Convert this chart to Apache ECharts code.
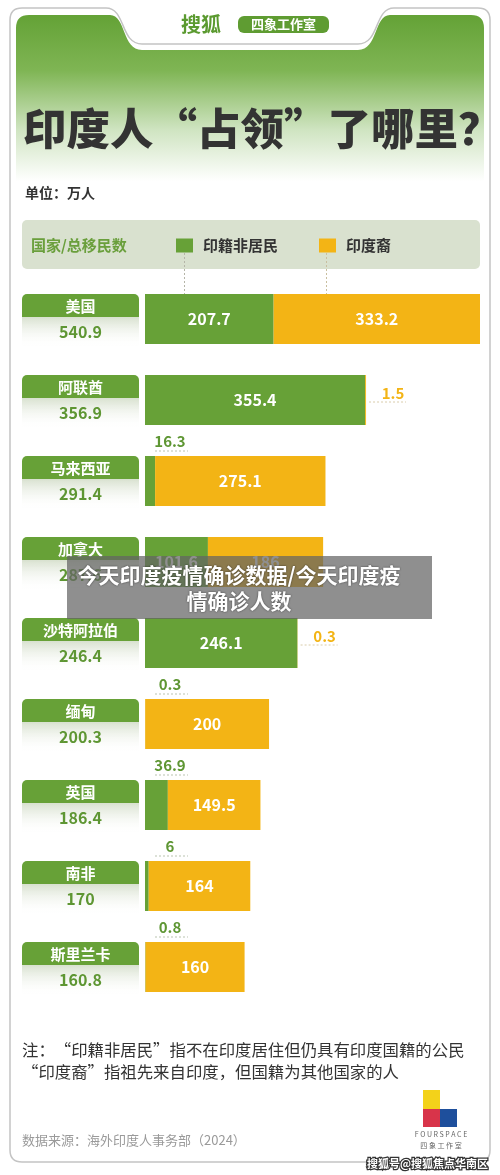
<!DOCTYPE html>
<html>
<head>
<meta charset="utf-8">
<script src="https://cdn.jsdelivr.net/npm/echarts@6/dist/echarts.min.js"></script>
<style>
  html, body { margin: 0; padding: 0; background: #fff; }
  #chart { width: 500px; height: 1175px; }
</style>
</head>
<body>
<div id="chart"></div>
<script>
// data (万人)
const countries = ['美国', '阿联酋', '马来西亚', '加拿大', '沙特阿拉伯', '缅甸', '英国', '南非', '斯里兰卡'];
const totals = [540.9, 356.9, 291.4, 287.6, 246.4, 200.3, 186.4, 170, 160.8];
const nonResident = [207.7, 355.4, 16.3, 101.6, 246.1, 0.3, 36.9, 6, 0.8];
const diaspora = [333.2, 1.5, 275.1, 186, 0.3, 200, 149.5, 164, 160];
const seriesNames = ['印籍非居民', '印度裔'];

const FONT = '"Noto Sans CJK SC", "Noto Sans", sans-serif';
const GREEN = '#67a137';
const ORANGE = '#f3b415';
const TEXT_GREEN = '#5e9633';
const SMALL = 50; // below this a segment gets its label outside the bar

// header shapes (notched card)
echarts.graphic.registerShape('headerFill', echarts.graphic.extendPath(
  'M16,28 Q16,15 29,15 L110,15 C126,15 122,50 142,50 L358,50 C378,50 374,15 390,15 L471,15 Q484,15 484,28 L484,200 L16,200 Z', {}));
echarts.graphic.registerShape('cardFrame', echarts.graphic.extendPath(
  'M10,1150 L10,20 Q10,8 22,8 L106,8 C126,8 120,44 142,44 L358,44 C380,44 374,8 394,8 L478,8 Q490,8 490,20 L490,1150 Q490,1162 478,1162 L22,1162 Q10,1162 10,1150 Z', {}));

const chart = echarts.init(document.getElementById('chart'), null, { renderer: 'canvas' });

// left boxes: country name + total
function renderBox(params, api) {
  const i = api.value(1);
  const c = api.coord([0, i]);
  const left = params.coordSys.x - 123;
  const top = c[1] - 25;
  return {
    type: 'group',
    children: [
      { type: 'rect', shape: { x: left, y: top + 23, width: 117, height: 31 },
        style: { fill: { type: 'linear', x: 0, y: 0, x2: 0, y2: 1,
          colorStops: [{ offset: 0, color: '#d8e1cf' }, { offset: 1, color: 'rgba(255,255,255,0)' }] } } },
      { type: 'rect', shape: { x: left, y: top, width: 117, height: 23, r: [5, 5, 0, 0] },
        style: { fill: GREEN } },
      { type: 'text', x: left + 58.5, y: top + 12.5,
        style: { text: countries[i], fill: '#fff', fontSize: 15, fontWeight: 'bold', fontFamily: FONT,
          align: 'center', verticalAlign: 'middle' } },
      { type: 'text', x: left + 58.5, y: top + 38,
        style: { text: String(totals[i]), fill: TEXT_GREEN, fontSize: 16, fontWeight: 'bold', fontFamily: FONT,
          align: 'center', verticalAlign: 'middle' } }
    ]
  };
}

// small segment values placed outside the bar with a dotted underline
function renderSmall(params, api) {
  const i = api.value(1);
  const start = api.coord([0, i]);
  const top = start[1] - 25;
  const kids = [];
  if (nonResident[i] < SMALL) {
    const x = start[0];
    kids.push({ type: 'text', x: x + 25, y: top - 15,
      style: { text: String(nonResident[i]), fill: TEXT_GREEN, fontSize: 15, fontWeight: 'bold', fontFamily: FONT,
        align: 'center', verticalAlign: 'middle' } });
    kids.push({ type: 'line', shape: { x1: x + 10, y1: top - 5, x2: x + 43, y2: top - 5 },
      style: { stroke: '#b9c3b0', lineWidth: 1, lineDash: [2, 2] } });
  }
  if (diaspora[i] < SMALL) {
    const x = api.coord([nonResident[i] + diaspora[i], i])[0];
    kids.push({ type: 'text', x: x + 27, y: top + 18,
      style: { text: String(diaspora[i]), fill: ORANGE, fontSize: 15, fontWeight: 'bold', fontFamily: FONT,
        align: 'center', verticalAlign: 'middle' } });
    kids.push({ type: 'line', shape: { x1: x + 3, y1: top + 27, x2: x + 40, y2: top + 27 },
      style: { stroke: '#d9ccaa', lineWidth: 1, lineDash: [2, 2] } });
  }
  return { type: 'group', children: kids };
}

const barLabel = {
  show: true, position: 'inside', color: '#fff', fontSize: 16, fontWeight: 'bold', fontFamily: FONT,
  formatter: p => (p.value >= SMALL ? String(p.value) : '')
};

const option = {
  animation: false,
  textStyle: { fontFamily: FONT },
  grid: { left: 145, right: 20, top: 278.5, height: 729 },
  xAxis: { type: 'value', min: 0, max: totals[0], show: false },
  yAxis: { type: 'category', data: countries, inverse: true, show: false },
  legend: {
    data: seriesNames, left: 176, top: 238, padding: 0, icon: 'rect', itemWidth: 17, itemHeight: 14, itemGap: 41,
    selectedMode: false,
    textStyle: { fontSize: 15, fontWeight: 'bold', color: '#333', fontFamily: FONT, padding: [0, 0, 0, 5] }
  },
  graphic: [
    { type: 'headerFill', z: -10,
      style: { fill: { type: 'linear', x: 0, y: 0, x2: 0, y2: 1,
        colorStops: [{ offset: 0, color: '#64a236' }, { offset: 0.3, color: '#7fb554' },
                     { offset: 0.62, color: '#cfe4c1' }, { offset: 0.9, color: '#ffffff' }, { offset: 1, color: '#ffffff' }] } } },
    { type: 'cardFrame', z: -5, style: { fill: 'none', stroke: '#c4c4c4', lineWidth: 1.5 } },
    { type: 'text', x: 201, y: 24, style: { text: '搜狐', fill: '#5b9a30', fontSize: 20, fontWeight: 'bold', fontFamily: FONT, align: 'center', verticalAlign: 'middle' } },
    { type: 'rect', shape: { x: 238, y: 16, width: 91, height: 17, r: 6 }, style: { fill: '#5f9c32' } },
    { type: 'text', x: 283.5, y: 24.5, style: { text: '四象工作室', fill: '#fff', fontSize: 13, fontWeight: 'bold', fontFamily: FONT, align: 'center', verticalAlign: 'middle' } },
    // title
    { type: 'text', x: 23, y: 128, style: { text: '印度人“占领”了哪里？', fill: '#333', fontSize: 43.5, fontWeight: 900, fontFamily: FONT, verticalAlign: 'middle' } },
    { type: 'text', x: 25, y: 193, style: { text: '单位：万人', fill: '#333', fontSize: 14, fontWeight: 'bold', fontFamily: FONT, verticalAlign: 'middle' } },
    // legend strip
    { type: 'rect', z: -1, shape: { x: 22, y: 220, width: 458, height: 49, r: 5 }, style: { fill: '#d9e1cf' } },
    { type: 'text', x: 31, y: 245, style: { text: '国家/总移民数', fill: '#6a9f3c', fontSize: 15, fontWeight: 'bold', fontFamily: FONT, verticalAlign: 'middle' } },
    { type: 'line', shape: { x1: 184.5, y1: 253, x2: 184.5, y2: 294 }, style: { stroke: '#b5b5a8', lineWidth: 1, lineDash: [2, 2] } },
    { type: 'line', shape: { x1: 326.5, y1: 253, x2: 326.5, y2: 294 }, style: { stroke: '#c9bf9f', lineWidth: 1, lineDash: [2, 2] } },
    // notes
    { type: 'text', x: 22, y: 1050, style: { text: '注：“印籍非居民”指不在印度居住但仍具有印度国籍的公民', fill: '#333', fontSize: 16.4, fontFamily: FONT, verticalAlign: 'middle' } },
    { type: 'text', x: 22, y: 1072, style: { text: '“印度裔”指祖先来自印度，但国籍为其他国家的人', fill: '#333', fontSize: 16.4, fontFamily: FONT, verticalAlign: 'middle' } },
    { type: 'text', x: 22, y: 1140, style: { text: '数据来源：海外印度人事务部（2024）', fill: '#9a9a9a', fontSize: 13, fontFamily: FONT, verticalAlign: 'middle' } },
    // FOURSPACE logo
    { type: 'rect', shape: { x: 423, y: 1090, width: 17, height: 19 }, style: { fill: '#f3d21a' } },
    { type: 'rect', shape: { x: 423, y: 1109, width: 17, height: 18 }, style: { fill: '#d8344a' } },
    { type: 'rect', shape: { x: 440, y: 1109, width: 17, height: 18 }, style: { fill: '#1e4f9c' } },
    { type: 'text', x: 441, y: 1134, style: { text: 'F O U R S P A C E', fill: '#666', fontSize: 7, fontFamily: FONT, align: 'center', verticalAlign: 'middle' } },
    { type: 'text', x: 441, y: 1145, style: { text: '四 象 工 作 室', fill: '#666', fontSize: 7, fontFamily: FONT, align: 'center', verticalAlign: 'middle' } },
    // overlay caption
    { type: 'rect', z: 100, shape: { x: 67, y: 556, width: 365, height: 63 }, style: { fill: 'rgba(100,100,100,0.72)' } },
    { type: 'text', z: 101, x: 239, y: 575, style: { text: '今天印度疫情确诊数据/今天印度疫', fill: '#fff', fontSize: 21, fontWeight: 'bold', fontFamily: FONT, align: 'center', verticalAlign: 'middle', textShadowColor: 'rgba(0,0,0,0.6)', textShadowBlur: 2 } },
    { type: 'text', z: 101, x: 239, y: 601, style: { text: '情确诊人数', fill: '#fff', fontSize: 21, fontWeight: 'bold', fontFamily: FONT, align: 'center', verticalAlign: 'middle', textShadowColor: 'rgba(0,0,0,0.6)', textShadowBlur: 2 } },
    // watermark
    { type: 'text', z: 101, x: 488, y: 1164, style: { text: '搜狐号@搜狐焦点华南区', fill: '#fff', stroke: '#333', lineWidth: 2.5, fontSize: 11, fontWeight: 'bold', fontFamily: FONT, align: 'right', verticalAlign: 'middle' } }
  ],
  series: [
    { name: seriesNames[0], type: 'bar', stack: 'total', barWidth: 50, data: nonResident,
      itemStyle: { color: GREEN }, label: barLabel },
    { name: seriesNames[1], type: 'bar', stack: 'total', barWidth: 50, data: diaspora,
      itemStyle: { color: ORANGE }, label: barLabel },
    { name: 'box', type: 'custom', renderItem: renderBox, data: countries.map((c, i) => [0, i]), z: 3 },
    { name: 'small', type: 'custom', renderItem: renderSmall, data: countries.map((c, i) => [0, i]), z: 3 }
  ]
};

chart.setOption(option);
</script>
</body>
</html>
